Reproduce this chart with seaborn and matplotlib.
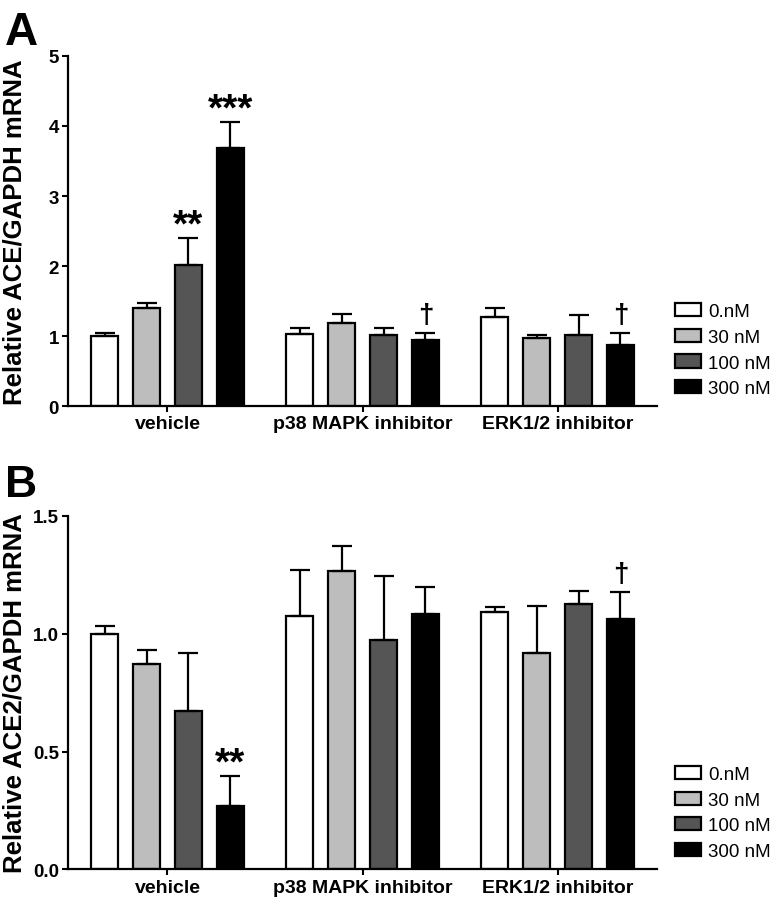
import matplotlib
matplotlib.use("Agg")
import matplotlib.pyplot as plt
import pandas as pd
import seaborn as sns
from matplotlib.patches import Patch

groups = ["vehicle", "p38 MAPK inhibitor", "ERK1/2 inhibitor"]
doses = ["0.nM", "30 nM", "100 nM", "300 nM"]
dose_colors = ["#ffffff", "#bdbdbd", "#555555", "#000000"]

# panel A - ACE/GAPDH (mean per group, one list per dose)
ace_0nm = [1.00, 1.03, 1.28]
ace_30nm = [1.40, 1.19, 0.98]
ace_100nm = [2.01, 1.01, 1.02]
ace_300nm = [3.68, 0.95, 0.88]
ace_err_0nm = [0.04, 0.08, 0.12]
ace_err_30nm = [0.08, 0.13, 0.03]
ace_err_100nm = [0.39, 0.10, 0.28]
ace_err_300nm = [0.37, 0.09, 0.16]
ace_marks = [("vehicle", "100 nM", "**"), ("vehicle", "300 nM", "***"),
             ("p38 MAPK inhibitor", "300 nM", "\u2020"), ("ERK1/2 inhibitor", "300 nM", "\u2020")]

# panel B - ACE2/GAPDH
ace2_0nm = [1.00, 1.075, 1.09]
ace2_30nm = [0.872, 1.263, 0.917]
ace2_100nm = [0.671, 0.972, 1.125]
ace2_300nm = [0.269, 1.081, 1.061]
ace2_err_0nm = [0.033, 0.194, 0.021]
ace2_err_30nm = [0.056, 0.109, 0.199]
ace2_err_100nm = [0.247, 0.270, 0.055]
ace2_err_300nm = [0.127, 0.118, 0.113]
ace2_marks = [("vehicle", "300 nM", "**"), ("ERK1/2 inhibitor", "300 nM", "\u2020")]


def long_form(means, errs):
    rows = []
    for dose, m, e in zip(doses, means, errs):
        for g, v, s in zip(groups, m, e):
            rows.append({"group": g, "dose": dose, "mean": v, "err": s})
    return pd.DataFrame(rows)


def draw_panel(ax, df, marks, ylim, yticks, ticklabels, ylabel):
    sns.barplot(data=df, x="group", y="mean", hue="dose", order=groups, hue_order=doses,
                palette=dict(zip(doses, dose_colors)), edgecolor="black", linewidth=1.6,
                width=0.86, gap=0.35, errorbar=None, legend=False, ax=ax)

    # bars sorted left to right -> group-major, dose-minor
    bars = sorted(ax.patches[:len(df)], key=lambda p: p.get_x())
    tops = {}
    for k, bar in enumerate(bars):
        g, d = groups[k // len(doses)], doses[k % len(doses)]
        row = df[(df["group"] == g) & (df["dose"] == d)].iloc[0]
        x = bar.get_x() + bar.get_width() / 2
        ax.errorbar(x, row["mean"], yerr=[[0], [row["err"]]], fmt="none", ecolor="black",
                    elinewidth=1.6, capsize=7, capthick=1.6, zorder=1)
        tops[(g, d)] = (x, row["mean"] + row["err"])

    for g, d, txt in marks:
        x, y = tops[(g, d)]
        if txt == "\u2020":
            size, off = 20, 8.5
        else:
            size, off = 28, 2
        ax.annotate(txt, (x, y), xytext=(0, off), textcoords="offset points",
                    ha="center", va="baseline", fontsize=size, fontweight="bold")

    ax.set_xlim(-0.51, 2.51)
    ax.set_ylim(*ylim)
    ax.tick_params(width=1.5, length=4.5, pad=2, direction="out", labelsize=13.5,
                   color="black", labelcolor="black")
    ax.set_yticks(yticks)
    ax.set_yticklabels(ticklabels, fontweight="bold", fontsize=13.5)
    ax.set_xticks(range(len(groups)))
    ax.set_xticklabels(groups, fontweight="bold", fontsize=14)
    ax.set_xlabel("")
    ax.set_ylabel(ylabel, fontweight="bold", fontsize=18.5)
    ax.yaxis.set_label_coords(-0.07, 0.5)
    sns.despine(ax=ax)
    for s in ["left", "bottom"]:
        ax.spines[s].set_linewidth(1.6)
        ax.spines[s].set_color("black")

    handles = [Patch(facecolor=c, edgecolor="black", linewidth=1.6) for c in dose_colors]
    ax.legend(handles, doses, loc="center left", bbox_to_anchor=(1.03, 0.16), frameon=False,
              borderpad=0, borderaxespad=0, handlelength=1.4, handleheight=0.7,
              handletextpad=0.4, labelspacing=0.45, fontsize=13.5)


sns.set_style("ticks")
plt.rcParams["font.family"] = ["Liberation Sans", "DejaVu Sans"]
plt.rcParams["text.color"] = "black"
plt.rcParams["axes.labelcolor"] = "black"

fig = plt.figure(figsize=(7.73, 9.03), dpi=100)
ax_a = fig.add_axes([0.088, 0.549, 0.762, 0.388])
ax_b = fig.add_axes([0.088, 0.036, 0.762, 0.392])

df_a = long_form([ace_0nm, ace_30nm, ace_100nm, ace_300nm],
                 [ace_err_0nm, ace_err_30nm, ace_err_100nm, ace_err_300nm])
df_b = long_form([ace2_0nm, ace2_30nm, ace2_100nm, ace2_300nm],
                 [ace2_err_0nm, ace2_err_30nm, ace2_err_100nm, ace2_err_300nm])

draw_panel(ax_a, df_a, ace_marks, (0, 5), range(6), [str(i) for i in range(6)],
           "Relative ACE/GAPDH mRNA")
draw_panel(ax_b, df_b, ace2_marks, (0, 1.5), [0, 0.5, 1.0, 1.5], ["0.0", "0.5", "1.0", "1.5"],
           "Relative ACE2/GAPDH mRNA")

fig.text(0.006, 0.988, "A", fontsize=33, fontweight="bold", va="top")
fig.text(0.006, 0.485, "B", fontsize=32, fontweight="bold", va="top")

fig.savefig("out.png", dpi=100)
